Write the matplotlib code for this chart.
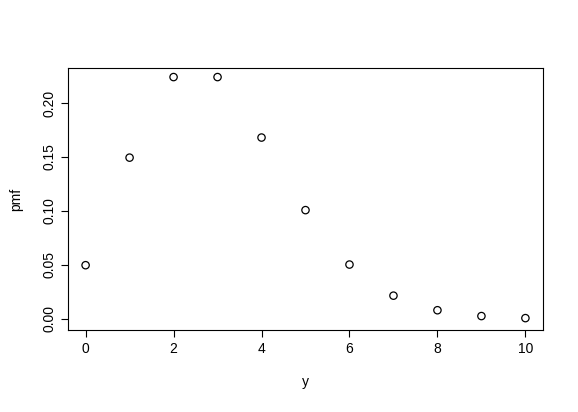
import matplotlib
matplotlib.use("Agg")
import matplotlib.pyplot as plt

# values
y = [0, 1, 2, 3, 4, 5, 6, 7, 8, 9, 10]
pmf = [0.0498, 0.1494, 0.2240, 0.2240, 0.1680, 0.1008, 0.0504, 0.0216, 0.0081, 0.0027, 0.0008]
xticks = [0, 2, 4, 6, 8, 10]
yticks = [0.00, 0.05, 0.10, 0.15, 0.20]

plt.rcParams['font.family'] = ['Liberation Sans', 'DejaVu Sans']
fig = plt.figure(figsize=(5.78, 4.12), dpi=100)
ax = fig.add_axes([68 / 578, 1 - 330 / 412, 475 / 578, 262 / 412])
ax.scatter(y, pmf, s=28, facecolors='none', edgecolors='black', linewidths=0.9)
ax.set_xlim(-0.4, 10.4)
ax.set_ylim(-0.0102, 0.2324)
ax.set_xticks(xticks)
ax.set_xticklabels([str(t) for t in xticks])
ax.set_yticks(yticks)
ax.set_yticklabels(['%.2f' % t for t in yticks], rotation=90, va='center')
ax.tick_params(labelsize=10, length=5, width=0.8)
for s in ax.spines.values():
    s.set_linewidth(0.8)
ax.set_xlabel('y', fontsize=10, labelpad=14)
ax.set_ylabel('pmf', fontsize=10, labelpad=14)
fig.savefig('out.png', dpi=100)
